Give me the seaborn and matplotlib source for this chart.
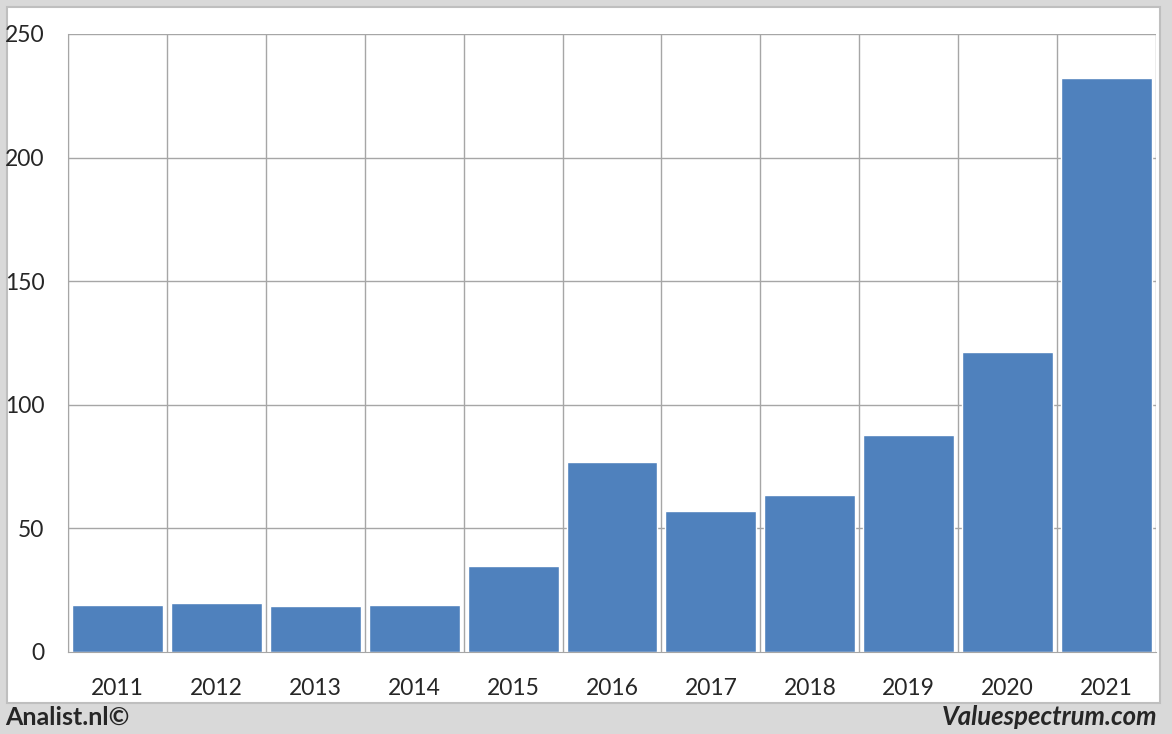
import matplotlib
matplotlib.use("Agg")
import matplotlib.pyplot as plt
import seaborn as sns
import pandas as pd
from matplotlib.patches import Rectangle

# Données
annees = ["2011", "2012", "2013", "2014", "2015", "2016", "2017", "2018", "2019", "2020", "2021"]
valeurs = [19.0, 19.8, 18.6, 19.0, 34.8, 76.9, 57.0, 63.5, 87.8, 121.4, 232.2]
yticks = [0, 50, 100, 150, 200, 250]

df = pd.DataFrame({"annee": annees, "valeur": valeurs})

sns.set_style("white")
plt.rcParams["font.family"] = ["Lato", "DejaVu Sans"]

W, H = 1172, 734
fig = plt.figure(figsize=(W / 100, H / 100), dpi=100)
fig.patch.set_facecolor("#d9d9d9")

# panneau blanc
fig.add_artist(Rectangle((7 / W, 1 - 703 / H), (1160 - 7) / W, (703 - 7) / H,
                         transform=fig.transFigure, facecolor="white",
                         edgecolor="#bfbfbf", linewidth=1.5, zorder=0))

ax = fig.add_axes([68 / W, 1 - 652 / H, (1156 - 68) / W, (652 - 34) / H])
ax.set_facecolor("white")

sns.barplot(data=df, x="annee", y="valeur", color="#4f81bd", saturation=1,
            width=0.92, ax=ax, zorder=3)

ax.set_ylim(0, 250)
ax.set_xlim(-0.5, len(annees) - 0.5)
ax.set_yticks(yticks)
ax.set_xlabel("")
ax.set_ylabel("")

grid_col = "#a6a6a6"
for y in yticks[1:]:
    ax.axhline(y, color=grid_col, linewidth=1, zorder=1)
for i in range(len(annees) + 1):
    ax.axvline(i - 0.5, color=grid_col, linewidth=1, zorder=1)

for s in ["top", "right"]:
    ax.spines[s].set_visible(False)
ax.spines["left"].set_color(grid_col)
ax.spines["bottom"].set_color(grid_col)
ax.spines["bottom"].set_zorder(4)

ax.set_xticks([i - 0.5 for i in range(len(annees) + 1)], minor=True)
ax.tick_params(axis="x", which="major", length=0, pad=19, labelsize=16.5)
ax.tick_params(axis="x", which="minor", length=8, color=grid_col, width=1)
ax.tick_params(axis="y", length=8, color=grid_col, width=1, pad=9, labelsize=16.5)

fig.text(5 / W, 1 - 717 / H, "Analist.nl©", fontsize=18, fontweight="bold",
         ha="left", va="center")
fig.text(1157 / W, 1 - 717 / H, "Valuespectrum.com", fontsize=18.5, fontweight="bold",
         fontstyle="italic", ha="right", va="center")

fig.savefig("out.png", dpi=100, facecolor=fig.get_facecolor())
